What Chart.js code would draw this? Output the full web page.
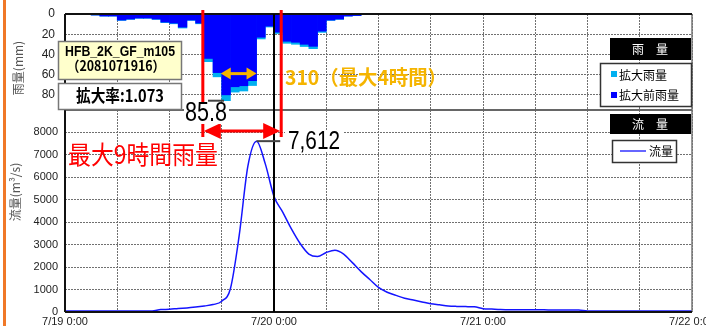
<!DOCTYPE html>
<html lang="ja">
<head>
<meta charset="utf-8">
<title>雨量・流量</title>
<script src="https://cdn.jsdelivr.net/npm/chart.js@4.4.1/dist/chart.umd.min.js"></script>
<style>
  html, body { margin: 0; padding: 0; background: #fff; }
  #wrap { position: relative; width: 706px; height: 326px; overflow: hidden; }
</style>
</head>
<body>
<div id="wrap"><canvas id="chart" width="706" height="326"></canvas></div>
<script>
// x axis is hours counted from 7/19 0:00
const dayLabels = ['7/19 0:00', '7/20 0:00', '7/21 0:00', '7/22 0:00'];

// hourly rain (mm), hour = start of the hour
const rainHours    = [3, 4, 5, 6, 7, 8, 9, 10, 11, 12, 13, 14, 15, 16, 17, 18, 19, 20, 21, 22, 23, 24, 25, 26, 27, 28, 29, 30, 31, 32, 33];
const rainBefore   = [1, 2, 2, 6, 5, 4, 4, 5, 8, 9, 13, 6, 9, 44, 58, 80, 72, 71, 66, 23, 12, 18, 27, 28, 30, 32, 17, 6, 5, 2, 1.5];
const rainExpanded = [1.1, 2.1, 2.1, 6.4, 5.4, 4.3, 4.3, 5.4, 8.6, 9.7, 13.9, 6.4, 9.7, 47.2, 62.2, 85.8, 77.3, 76.2, 70.8, 24.7, 12.9, 19.3, 29.0, 30.0, 32.2, 34.3, 18.2, 6.4, 5.4, 2.1, 1.6];

// hourly flow (m3/s), index = hour
const flowValues = [
  50, 50, 50, 50, 50, 50, 50, 50, 50, 50, 50, 110,
  120, 160, 180, 220, 270, 330, 480, 1050, 3400, 6500, 7612, 6600,
  5150, 4450, 3700, 3050, 2580, 2470, 2650, 2750, 2580, 2200, 1800, 1450,
  1100, 880, 740, 610, 530, 450, 370, 320, 270, 250, 240, 230,
  150, 130, 110, 100, 100, 100, 95, 95, 90, 90, 90, 85,
  50, 45, 45, 45, 45, 45, 45, 45, 45, 45, 45, 45, 45
];

const stationName = 'HFB_2K_GF_m105';
const stationCode = '（2081071916）';
const expandRate = '拡大率:1.073';
const maxHourLabel = '85.8';
const max4hLabel = '310（最大4時間）';
const max9hLabel = '最大9時間雨量';
const peakLabel = '7,612';

const JP = '"Noto Sans CJK JP", "Noto Sans", sans-serif';
const NUM = '"Liberation Sans", Arial, sans-serif';
const NARROW = '"Liberation Sans Narrow", "Liberation Sans", Arial, sans-serif';
const GRID = '#707070';

function head(ctx, tipX, y, dir, len, half) {
  ctx.beginPath();
  ctx.moveTo(tipX, y);
  ctx.lineTo(tipX + dir * len, y - half);
  ctx.lineTo(tipX + dir * len, y + half);
  ctx.closePath();
  ctx.fill();
}

function doubleArrow(ctx, x1, x2, y, color, lw, len, half) {
  ctx.save();
  ctx.strokeStyle = color;
  ctx.fillStyle = color;
  ctx.lineWidth = lw;
  ctx.beginPath();
  ctx.moveTo(x1 + len - 1, y);
  ctx.lineTo(x2 - len + 1, y);
  ctx.stroke();
  head(ctx, x1, y, 1, len, half);
  head(ctx, x2, y, -1, len, half);
  ctx.restore();
}

const decor = {
  id: 'decor',
  beforeDraw(chart) {
    const ctx = chart.ctx;
    ctx.save();
    ctx.fillStyle = '#fff';
    ctx.fillRect(0, 0, chart.width, chart.height);
    ctx.fillStyle = '#f07828';
    ctx.fillRect(3, 0, 3, chart.height);
    ctx.restore();
  },
  afterDatasetsDraw(chart) {
    const ctx = chart.ctx;
    const a = chart.chartArea;
    const xs = chart.scales.x;
    const ry = chart.scales.yRain;
    const mid = ry.bottom;
    ctx.save();
    // frame
    ctx.strokeStyle = '#777';
    ctx.lineWidth = 1.5;
    ctx.beginPath();
    ctx.moveTo(a.right, a.top); ctx.lineTo(a.right, a.bottom);
    ctx.stroke();
    ctx.strokeStyle = '#666';
    ctx.lineWidth = 2;
    ctx.beginPath();
    ctx.moveTo(a.left, mid); ctx.lineTo(a.right, mid);
    ctx.stroke();
    ctx.strokeStyle = '#111';
    ctx.beginPath();
    ctx.moveTo(a.left, a.top); ctx.lineTo(a.right, a.top);
    ctx.moveTo(a.left, a.bottom); ctx.lineTo(a.right, a.bottom);
    ctx.moveTo(a.left, a.top); ctx.lineTo(a.left, a.bottom);
    ctx.stroke();
    // 7/20 0:00 line
    const x24 = xs.getPixelForValue(24);
    ctx.strokeStyle = '#000';
    ctx.lineWidth = 2;
    ctx.beginPath();
    ctx.moveTo(x24, a.top); ctx.lineTo(x24, a.bottom);
    ctx.stroke();
    ctx.restore();
  },
  afterDraw(chart) {
    const ctx = chart.ctx;
    const a = chart.chartArea;
    const xs = chart.scales.x;
    const ry = chart.scales.yRain;
    const fy = chart.scales.y;
    ctx.save();

    // axis titles
    ctx.fillStyle = '#555';
    ctx.font = '12px ' + JP;
    ctx.textAlign = 'center';
    ctx.textBaseline = 'middle';
    ctx.save();
    ctx.translate(18, 68); ctx.rotate(-Math.PI / 2);
    ctx.fillText('雨量(mm)', 0, 0);
    ctx.restore();
    ctx.save();
    ctx.translate(15, 192); ctx.rotate(-Math.PI / 2);
    ctx.fillText('流量(m³/s)', 0, 0);
    ctx.restore();

    // 9 hour window (red)
    const xL = xs.getPixelForValue(16) - 1.5;
    const xR = xs.getPixelForValue(25) - 1.5;
    ctx.fillStyle = '#ff0000';
    ctx.fillRect(xL - 1.5, a.top - 4, 3, 127);
    ctx.fillRect(xR - 1.5, a.top - 4, 3, 127);
    doubleArrow(ctx, xL + 1, xR - 1, 131, '#ff0000', 3, 17, 8);

    // max hour label
    const yMax = ry.getPixelForValue(85.8);
    ctx.strokeStyle = '#444';
    ctx.lineWidth = 2;
    ctx.beginPath();
    ctx.moveTo(208, yMax); ctx.lineTo(224, yMax);
    ctx.stroke();
    ctx.fillStyle = '#fff';
    ctx.fillRect(184, 104, 45, 20);
    ctx.fillStyle = '#000';
    ctx.font = '27px ' + NARROW;
    ctx.textAlign = 'center';
    ctx.fillText(maxHourLabel, 206, 114, 42);

    // peak flow
    const xPeak = xs.getPixelForValue(22);
    const yPeak = fy.getPixelForValue(7612);
    ctx.strokeStyle = '#444';
    ctx.beginPath();
    ctx.moveTo(xPeak, yPeak); ctx.lineTo(xR - 1, yPeak);
    ctx.stroke();
    ctx.fillStyle = '#fff';
    ctx.fillRect(285, 130, 58, 22);
    ctx.fillStyle = '#000';
    ctx.font = '25px ' + NARROW;
    ctx.textAlign = 'left';
    ctx.fillText(peakLabel, 288, 142, 52);

    // red caption
    ctx.fillStyle = '#ff0000';
    ctx.font = '25px ' + JP;
    ctx.fillText(max9hLabel, 68, 154, 150);

    // max 4 hour (orange)
    const yO = ry.getPixelForValue(59);
    doubleArrow(ctx, xs.getPixelForValue(18) - 1, xs.getPixelForValue(22), yO, '#f5b400', 3, 10, 6);
    ctx.fillStyle = '#f5b400';
    ctx.font = 'bold 20px ' + JP;
    ctx.fillText(max4hLabel, 285, 77, 162);

    // station box
    ctx.fillStyle = '#ffffcc';
    ctx.fillRect(58, 41, 124, 39);
    ctx.strokeStyle = '#777';
    ctx.lineWidth = 1.5;
    ctx.strokeRect(58.5, 41.5, 123, 38);
    ctx.fillStyle = '#fff';
    ctx.fillRect(58, 83, 124, 27);
    ctx.strokeRect(58.5, 83.5, 123, 26);
    ctx.fillStyle = '#000';
    ctx.textAlign = 'center';
    ctx.font = 'bold 14px ' + NUM;
    ctx.fillText(stationName, 120, 52, 110);
    ctx.font = 'bold 14px ' + JP;
    ctx.fillText(stationCode, 116, 66, 98);
    ctx.font = 'bold 17px ' + JP;
    ctx.fillText(expandRate, 120, 96, 88);

    // rain legend
    ctx.fillStyle = '#000';
    ctx.fillRect(610, 38, 81, 22);
    ctx.fillStyle = '#fff';
    ctx.font = '12px ' + JP;
    ctx.fillText('雨　量', 650, 49);
    ctx.fillStyle = '#fff';
    ctx.fillRect(600, 63, 92, 44);
    ctx.strokeStyle = '#333';
    ctx.strokeRect(600.5, 63.5, 91, 43);
    ctx.fillStyle = '#00b0f0';
    ctx.fillRect(611, 71, 6, 6);
    ctx.fillStyle = '#0000ff';
    ctx.fillRect(611, 92, 6, 6);
    ctx.fillStyle = '#000';
    ctx.textAlign = 'left';
    ctx.fillText('拡大雨量', 619, 75);
    ctx.fillText('拡大前雨量', 619, 95);

    // flow legend
    ctx.fillStyle = '#000';
    ctx.fillRect(610, 114, 81, 20);
    ctx.fillStyle = '#fff';
    ctx.textAlign = 'center';
    ctx.fillText('流　量', 650, 124);
    ctx.fillStyle = '#fff';
    ctx.fillRect(612, 140, 65, 23);
    ctx.strokeRect(612.5, 140.5, 64, 22);
    ctx.strokeStyle = '#3333ff';
    ctx.lineWidth = 1.5;
    ctx.beginPath();
    ctx.moveTo(620, 151); ctx.lineTo(646, 151);
    ctx.stroke();
    ctx.fillStyle = '#000';
    ctx.textAlign = 'left';
    ctx.fillText('流量', 649, 151);

    ctx.restore();
  }
};

const gridOpts = { color: GRID, lineWidth: 1, drawTicks: false };
const borderOpts = { display: false, dash: [2, 1] };

new Chart(document.getElementById('chart'), {
  type: 'bar',
  data: {
    datasets: [
      {
        type: 'line',
        label: '流量',
        data: flowValues.map((v, i) => ({ x: i, y: v })),
        borderColor: '#1414ff',
        borderWidth: 1.5,
        pointRadius: 0,
        cubicInterpolationMode: 'monotone',
        xAxisID: 'x',
        yAxisID: 'y',
        order: 0
      },
      {
        label: '拡大前雨量',
        data: rainHours.map((h, i) => ({ x: h + 0.5, y: rainBefore[i] })),
        backgroundColor: '#0000ff',
        borderWidth: 0,
        barPercentage: 1,
        categoryPercentage: 1,
        grouped: false,
        xAxisID: 'x',
        yAxisID: 'yRain',
        order: 1
      },
      {
        label: '拡大雨量',
        data: rainHours.map((h, i) => ({ x: h + 0.5, y: rainExpanded[i] })),
        backgroundColor: '#00b0f0',
        borderWidth: 0,
        barPercentage: 1,
        categoryPercentage: 1,
        grouped: false,
        xAxisID: 'x',
        yAxisID: 'yRain',
        order: 2
      }
    ]
  },
  options: {
    responsive: false,
    animation: false,
    devicePixelRatio: 1,
    layout: { padding: { top: 14, right: 14, left: 0, bottom: 0 } },
    plugins: { legend: { display: false }, tooltip: { enabled: false } },
    scales: {
      x: {
        type: 'linear',
        min: 0,
        max: 72,
        offset: false,
        grid: Object.assign({ offset: false }, gridOpts),
        border: borderOpts,
        ticks: {
          stepSize: 6,
          autoSkip: false,
          maxRotation: 0,
          padding: 3,
          color: '#222',
          font: { family: NUM, size: 11 },
          callback: v => (v % 24 === 0 ? dayLabels[v / 24] : '')
        },
        afterFit(s) { s.height = 14; s.paddingLeft = 0; s.paddingRight = 0; }
      },
      y: {
        type: 'linear',
        position: 'left',
        stack: 'v',
        stackWeight: 202,
        min: 0,
        max: 9000,
        grid: gridOpts,
        border: borderOpts,
        ticks: {
          stepSize: 1000,
          autoSkip: false,
          padding: 7,
          color: '#222',
          font: { family: NUM, size: 11 },
          callback: v => (v === 9000 ? '' : v)
        },
        afterFit(s) { s.width = 65; s.paddingTop = 0; s.paddingBottom = 0; }
      },
      yRain: {
        type: 'linear',
        position: 'left',
        stack: 'v',
        stackWeight: 96,
        reverse: true,
        min: 0,
        max: 95,
        grid: gridOpts,
        border: borderOpts,
        ticks: {
          stepSize: 20,
          autoSkip: false,
          includeBounds: false,
          padding: 10,
          color: '#222',
          font: { family: NUM, size: 12 }
        },
        afterFit(s) { s.width = 65; s.paddingTop = 0; s.paddingBottom = 0; }
      }
    }
  },
  plugins: [decor]
});
</script>
</body>
</html>
